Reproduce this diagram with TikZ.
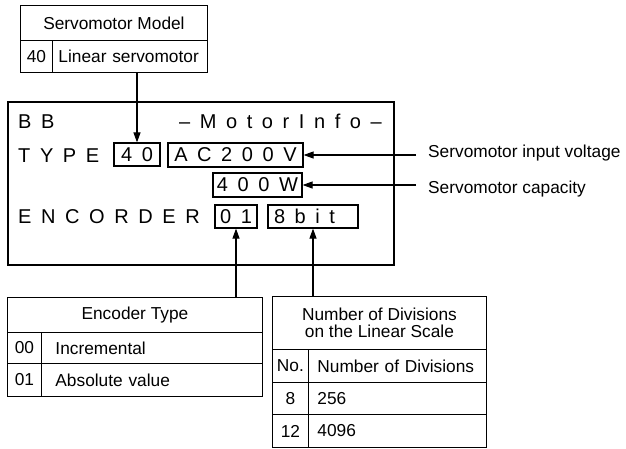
\documentclass[tikz,border=0pt]{standalone}
\usepackage{fontspec}
\setmainfont{Liberation Sans}
\newfontfamily\lcdfamily[LetterSpace=48]{Liberation Sans}
\usepackage{tikz}
\usetikzlibrary{positioning,arrows.meta}

\newcommand{\lcdfont}{\lcdfamily\fontsize{20}{22}\selectfont}
\newcommand{\lblfont}{\fontsize{17.3}{16.5}\selectfont}

\tikzset{
  cell/.style={draw, line width=0.9pt, font=\lblfont, anchor=north west, inner sep=0pt},
  txtcell/.style 2 args={cell, align=left, inner xsep=#1, text width=#2},
  panel/.style={draw, line width=2pt, anchor=north west, inner sep=0pt},
  lcd/.style={font=\lcdfont, anchor=base west, inner sep=0pt},
  lcdbox/.style={draw, line width=1.2pt, font=\lcdfont, inner sep=0pt, minimum height=23pt},
  note/.style={font=\lblfont, anchor=base west, inner xsep=12pt, inner ysep=0pt},
  arr/.style={line width=1.1pt, -{Triangle[length=10pt,width=7pt]}}
}

\begin{document}
\begin{tikzpicture}[x=1pt, y=-1pt]
    \useasboundingbox (0,0) rectangle (626,448);
    % Servomotor model table
    \node[cell, minimum width=187pt, minimum height=35pt] (smhead) at (20,5) {Servomotor Model};
    \node[cell, minimum width=32pt, minimum height=32pt] (smno) at (20,40) {40};
    \node[txtcell={6pt}{143pt}, minimum height=32pt] (smtype) at (52,40) {Linear servomotor};

    % Display panel
    \node[panel, minimum width=386pt, minimum height=163pt] (panel) at (7,101) {};
    \node[lcd] (bb) at (18,128) {BB};
    \node[lcd, anchor=base east] (title) at (382,128) {–MotorInfo–};
    \node[lcd] (type) at (18,162) {TYPE};
    \node[lcd] (enc) at (18,223) {ENCORDER};
    \node[lcdbox, minimum width=46pt] (b40) at (137,154.5) {40};
    \node[lcdbox, minimum width=135pt, minimum height=24pt] (bac) at (235.5,155) {AC200V};
    \node[lcdbox, minimum width=89pt, minimum height=24pt] (bw) at (257.5,185) {400W};
    \node[lcdbox, minimum width=42pt] (b01) at (236,216.5) {01};
    \node[lcdbox, inner xsep=6pt, text width=78pt, align=left] (b8) at (313,216.5) {8bit};

    % Labels on the right
    \node[note] (vlt) at (416,157) {Servomotor input voltage};
    \node[note] (cap) at (416,193) {Servomotor capacity};

    % Encoder type table
    \node[cell, minimum width=255pt, minimum height=35pt] (ethead) at (7,297) {Encoder Type};
    \node[cell, minimum width=34pt, minimum height=31pt] (et00no) at (7,332) {00};
    \node[txtcell={14pt}{193pt}, minimum height=31pt] (et00) at (41,332) {Incremental};
    \node[cell, minimum width=34pt, minimum height=33pt] (et01no) at (7,363) {01};
    \node[txtcell={14pt}{193pt}, minimum height=33pt] (et01) at (41,363) {Absolute value};

    % Divisions table
    \node[cell, minimum width=214pt, minimum height=53pt, align=center] (dvhead) at (272,296) {Number of Divisions\\on the Linear Scale};
    \node[cell, minimum width=36pt, minimum height=33pt] (dvno) at (272,349) {No.};
    \node[txtcell={9pt}{160pt}, minimum height=33pt] (dvnum) at (308,349) {Number of Divisions};
    \node[cell, minimum width=36pt, minimum height=32pt] (dv8no) at (272,382) {8};
    \node[txtcell={9pt}{160pt}, minimum height=32pt] (dv8) at (308,382) {256};
    \node[cell, minimum width=36pt, minimum height=33pt] (dv12no) at (272,414) {12};
    \node[txtcell={9pt}{160pt}, minimum height=33pt] (dv12) at (308,414) {4096};

    % Arrows
    \draw[arr] (smtype.south -| b40.north) -- (b40.north);
    \draw[arr] (vlt.west |- bac.east) -- (bac.east);
    \draw[arr] (cap.west |- bw.east) -- (bw.east);
    \draw[arr] (ethead.north -| b01.south) -- (b01.south);
    \draw[arr] (dvhead.north -| b8.south) -- (b8.south);
\end{tikzpicture}
\end{document}
